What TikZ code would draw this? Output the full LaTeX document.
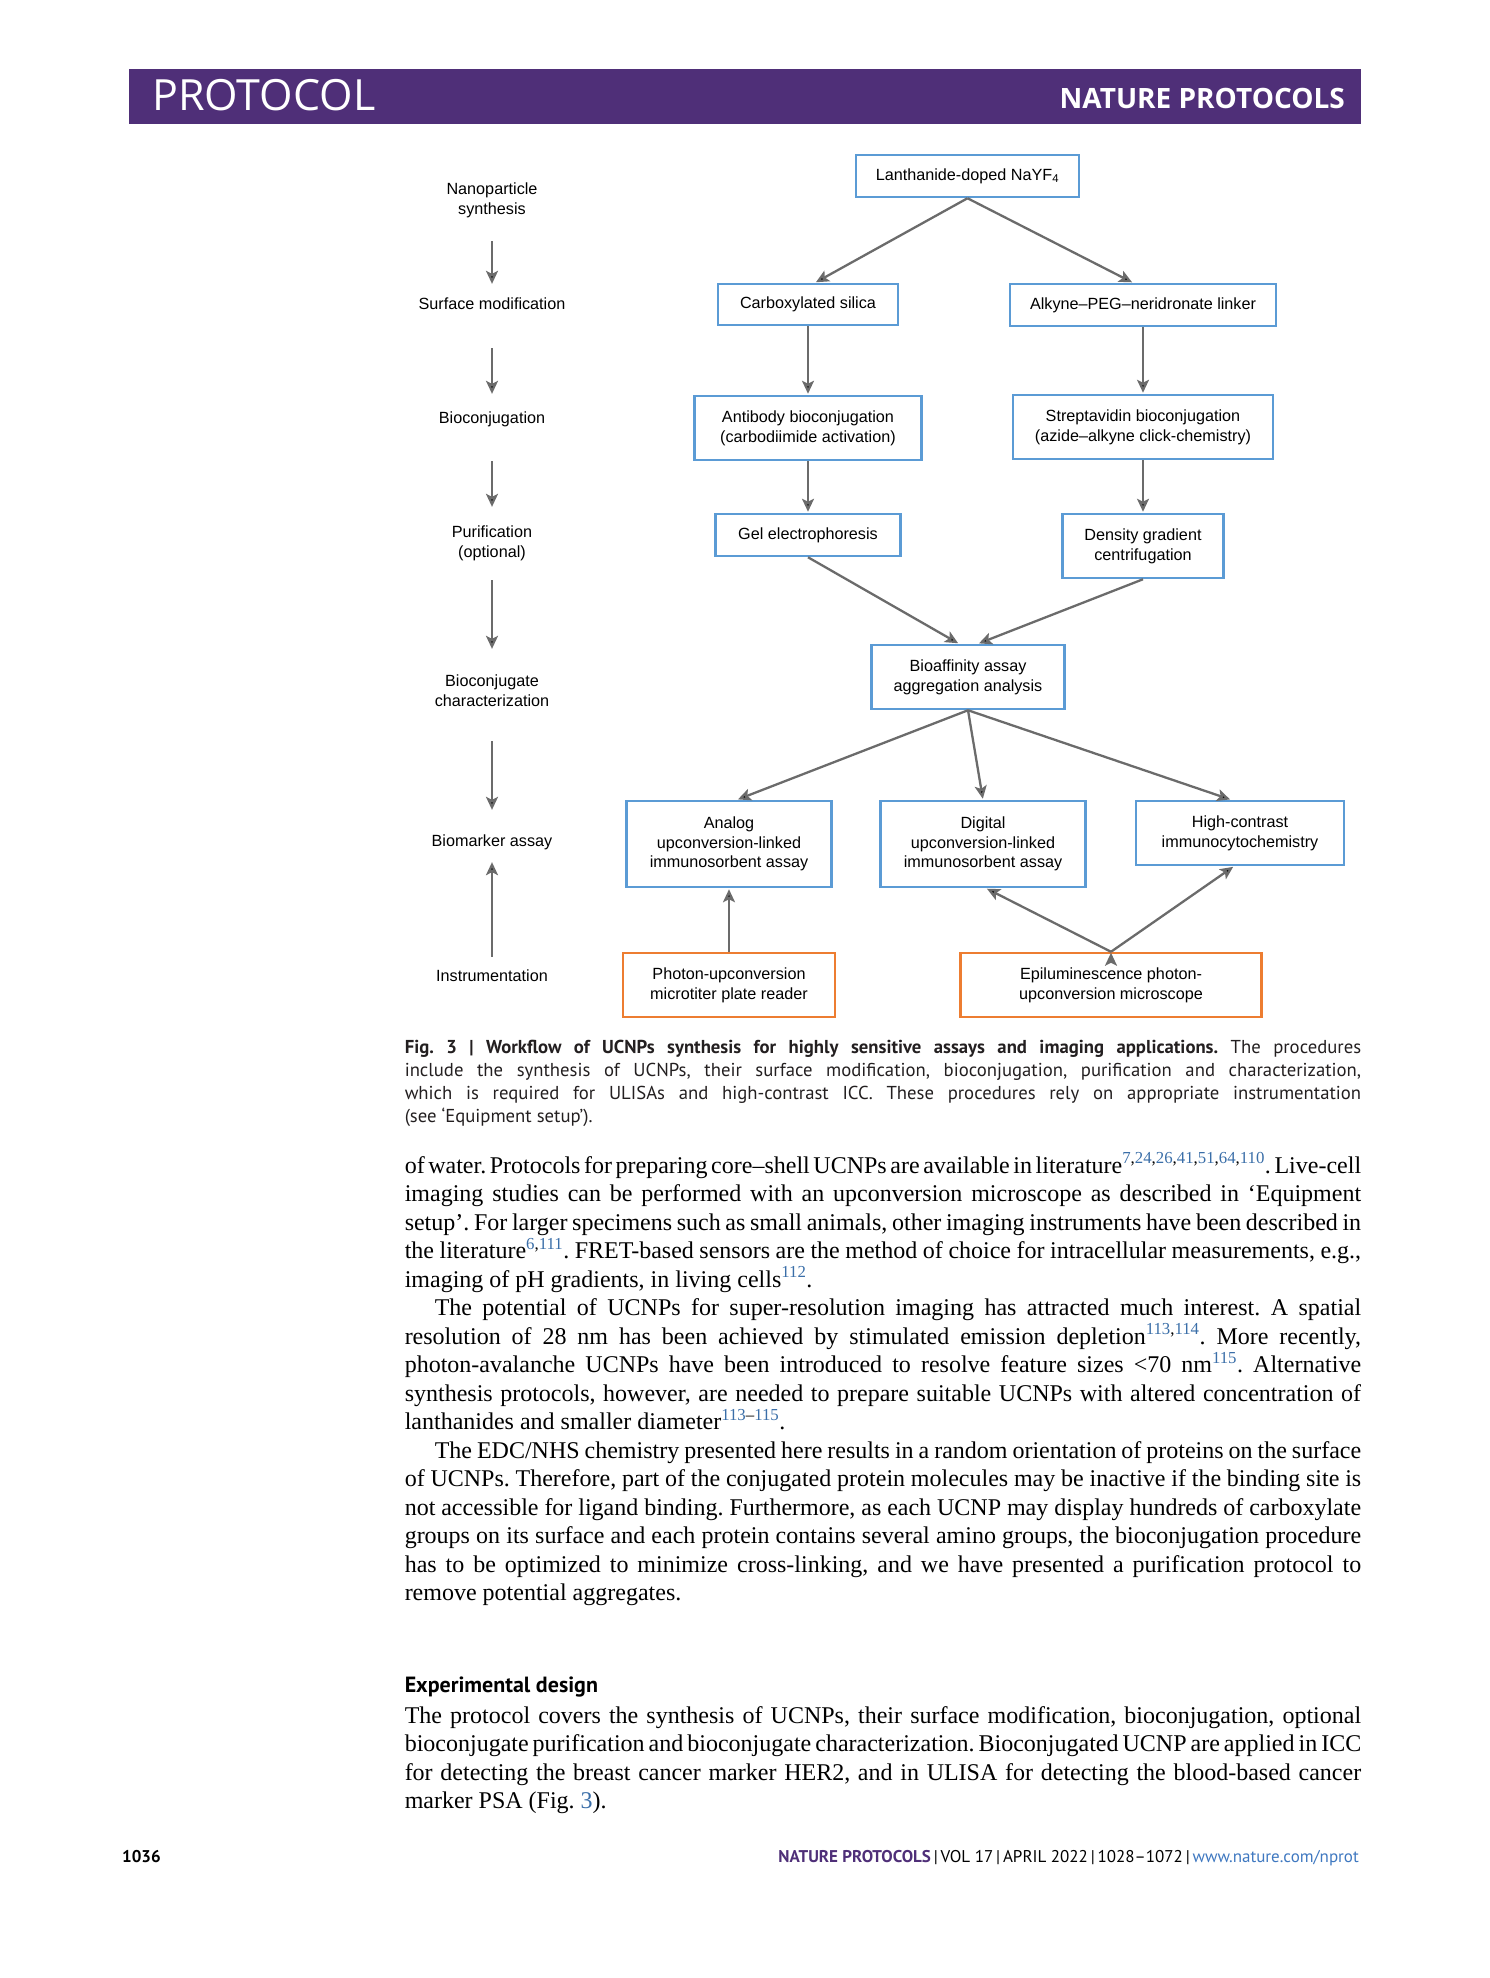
\documentclass[tikz,border=0pt]{standalone}
\usepackage{fontspec}
\setmainfont{Liberation Serif}
\newfontfamily\diafont{Liberation Sans}
\newfontfamily\capfont{PT Sans}
\newfontfamily\headfont{Open Sans}
\usetikzlibrary{arrows.meta}
\definecolor{boxblue}{HTML}{5B9BD5}
\definecolor{boxorange}{HTML}{ED7D31}
\definecolor{arrowgray}{HTML}{6B6B6B}
\definecolor{headpurple}{HTML}{4F2F78}
\definecolor{refblue}{HTML}{3A6EA8}
\definecolor{urlblue}{HTML}{3F78C0}
\definecolor{capgray}{HTML}{231F20}
\newcommand{\rf}[1]{{\color{refblue}#1}}
\newcommand{\jline}[2]{\spaceskip=0.25em plus 0.3em minus 0.12em\relax\makebox[#1][s]{#2}}
\frenchspacing

\begin{document}
\begin{tikzpicture}[x=1pt,y=-1pt,->,>={Stealth[length=13pt,width=12pt,inset=3pt]},shorten >=1pt,line width=2.3pt,
  box/.style={draw=boxblue,line width=2.5pt,inner sep=0pt,align=center,
    font=\diafont\fontsize{16.2}{19.7}\selectfont},
  instbox/.style={box,draw=boxorange},
  stage/.style={inner sep=0pt,minimum height=36pt,align=center,
    font=\diafont\fontsize{16.2}{19.7}\selectfont},
  bodyline/.style={anchor=base west,inner sep=0pt,
    font=\fontsize{24}{28.5}\selectfont},
  capline/.style={anchor=base west,inner sep=0pt,text=capgray,
    font=\capfont\fontsize{18.7}{23.3}\selectfont},
  foot/.style={anchor=base,inner sep=0pt,font=\capfont\fontsize{17}{20}\selectfont}]
  \useasboundingbox (0,0) rectangle (1489,1978);

  % header bar
  \node[fill=headpurple,minimum width=1232pt,minimum height=55pt,inner sep=0pt,anchor=north west] (bar) at (128,68) {};
  \node[anchor=base west,inner sep=0pt,text=white,font=\headfont\fontsize{43}{43}\selectfont] (head1) at (151,110) {PROTOCOL};
  \node[anchor=base east,inner sep=0pt,text=white,font=\headfont\bfseries\fontsize{28}{28}\selectfont] (head2) at (1346,108) {NATURE PROTOCOLS};

  % stages
  \node[stage] (nano) at (492,200) {Nanoparticle\\synthesis};
  \node[stage] (surf) at (492,304) {Surface modification};
  \node[stage] (bioc) at (492,419) {Bioconjugation};
  \node[stage] (puri) at (492,543) {Purification\\(optional)};
  \node[stage] (char) at (492,691) {Bioconjugate\\characterization};
  \node[stage] (bmka) at (492,842) {Biomarker assay};
  \node[stage] (inst) at (492,976) {Instrumentation};

  % workflow boxes
  \node[box,minimum width=223pt,minimum height=42pt] (lant) at (967.5,176) {Lanthanide-doped NaYF\textsubscript{4}};
  \node[box,minimum width=180pt,minimum height=41pt] (carb) at (808,304.5) {Carboxylated silica};
  \node[box,minimum width=266pt,minimum height=42pt] (alky) at (1143,305) {Alkyne–PEG–neridronate linker};
  \node[box,minimum width=227pt,minimum height=64pt] (anti) at (808,428) {Antibody bioconjugation\\(carbodiimide activation)};
  \node[box,minimum width=260pt,minimum height=64pt] (strep) at (1143,427) {Streptavidin bioconjugation\\(azide–alkyne click-chemistry)};
  \node[box,minimum width=185pt,minimum height=42pt] (gel) at (808,535) {Gel electrophoresis};
  \node[box,minimum width=161pt,minimum height=64pt] (dens) at (1143,546) {Density gradient\\centrifugation};
  \node[box,minimum width=193pt,minimum height=64pt] (bioaff) at (968,677) {Bioaffinity assay\\aggregation analysis};
  \node[box,minimum width=205pt,minimum height=86pt] (analog) at (729,844) {Analog\\upconversion-linked\\immunosorbent assay};
  \node[box,minimum width=205pt,minimum height=86pt] (digital) at (983,844) {Digital\\upconversion-linked\\immunosorbent assay};
  \node[box,minimum width=208pt,minimum height=64pt] (high) at (1240,833) {High-contrast\\immunocytochemistry};
  \node[instbox,minimum width=212pt,minimum height=64pt] (photon) at (729,985) {Photon-upconversion\\microtiter plate reader};
  \node[instbox,minimum width=301pt,minimum height=64pt] (epi) at (1111,985) {Epiluminescence photon-\\upconversion microscope};

  \path[draw=arrowgray]
  (nano) edge[shorten <=22pt] (surf)
  (surf) edge[shorten <=25pt,shorten >=6pt] (bioc)
  (bioc) edge[shorten <=23pt,shorten >=17pt] (puri)
  (puri) edge[shorten <=18pt,shorten >=23pt] (char)
  (char) edge[shorten <=31pt,shorten >=13pt] (bmka)
  (inst) edge (bmka);

  \path[draw=arrowgray]
  (lant.south) edge ([xshift=7pt]carb.north)
  (lant.south) edge ([xshift=-10pt]alky.north)
  (carb) edge (anti)
  (alky) edge (strep)
  (anti) edge (gel)
  (strep) edge (dens)
  (gel.south) edge ([xshift=-9pt]bioaff.north)
  (dens.south) edge ([xshift=10pt]bioaff.north)
  (bioaff.south) edge ([xshift=8pt]analog.north)
  (bioaff.south) edge (digital.north)
  (bioaff.south) edge ([xshift=-9pt]high.north)
  (photon) edge (analog)
  (epi.north) edge ([xshift=3pt]digital.south)
  (epi.north) edge ([xshift=-6pt]high.south);

  % caption
  \node[capline] (cap1) at (403.6,1053) {\jline{956.4pt}{{\bfseries Fig. 3 | Workflow of UCNPs synthesis for highly sensitive assays and imaging applications.} The procedures}};
  \node[capline] (cap2) at (403.6,1076.3) {\jline{956.4pt}{include the synthesis of UCNPs, their surface modification, bioconjugation, purification and characterization,}};
  \node[capline] (cap3) at (403.6,1099.6) {\jline{956.4pt}{which is required for ULISAs and high-contrast ICC. These procedures rely on appropriate instrumentation}};
  \node[capline] (cap4) at (403.6,1122.9) {(see ‘Equipment setup’).};

  % body text
  \node[bodyline] (b1) at (403.6,1173) {\jline{956.4pt}{of water. Protocols for preparing core–shell UCNPs are available in literature\textsuperscript{\rf{7},\rf{24},\rf{26},\rf{41},\rf{51},\rf{64},\rf{110}}. Live-cell}};
  \node[bodyline] (b2) at (403.6,1201.5) {\jline{956.4pt}{imaging studies can be performed with an upconversion microscope as described in ‘Equipment}};
  \node[bodyline] (b3) at (403.6,1230) {\jline{956.4pt}{setup’. For larger specimens such as small animals, other imaging instruments have been described in}};
  \node[bodyline] (b4) at (403.6,1258.5) {\jline{956.4pt}{the literature\textsuperscript{\rf{6},\rf{111}}. FRET-based sensors are the method of choice for intracellular measurements, e.g.,}};
  \node[bodyline] (b5) at (403.6,1287) {imaging of pH gradients, in living cells\textsuperscript{\rf{112}}.};
  \node[bodyline] (b6) at (433.6,1315.5) {\jline{926.4pt}{The potential of UCNPs for super-resolution imaging has attracted much interest. A spatial}};
  \node[bodyline] (b7) at (403.6,1344) {\jline{956.4pt}{resolution of 28 nm has been achieved by stimulated emission depletion\textsuperscript{\rf{113},\rf{114}}. More recently,}};
  \node[bodyline] (b8) at (403.6,1372.5) {\jline{956.4pt}{photon-avalanche UCNPs have been introduced to resolve feature sizes <70 nm\textsuperscript{\rf{115}}. Alternative}};
  \node[bodyline] (b9) at (403.6,1401) {\jline{956.4pt}{synthesis protocols, however, are needed to prepare suitable UCNPs with altered concentration of}};
  \node[bodyline] (b10) at (403.6,1429.5) {lanthanides and smaller diameter\textsuperscript{\rf{113}–\rf{115}}.};
  \node[bodyline] (b11) at (433.6,1458) {\jline{926.4pt}{The EDC/NHS chemistry presented here results in a random orientation of proteins on the surface}};
  \node[bodyline] (b12) at (403.6,1486.5) {\jline{956.4pt}{of UCNPs. Therefore, part of the conjugated protein molecules may be inactive if the binding site is}};
  \node[bodyline] (b13) at (403.6,1515) {\jline{956.4pt}{not accessible for ligand binding. Furthermore, as each UCNP may display hundreds of carboxylate}};
  \node[bodyline] (b14) at (403.6,1543.5) {\jline{956.4pt}{groups on its surface and each protein contains several amino groups, the bioconjugation procedure}};
  \node[bodyline] (b15) at (403.6,1572) {\jline{956.4pt}{has to be optimized to minimize cross-linking, and we have presented a purification protocol to}};
  \node[bodyline] (b16) at (403.6,1600.5) {remove potential aggregates.};

  \node[anchor=base west,inner sep=0pt,font=\capfont\bfseries\fontsize{22}{26}\selectfont] (sect) at (403.6,1692) {Experimental design};
  \node[bodyline] (b17) at (403.6,1723) {\jline{956.4pt}{The protocol covers the synthesis of UCNPs, their surface modification, bioconjugation, optional}};
  \node[bodyline] (b18) at (403.6,1751.5) {\jline{956.4pt}{bioconjugate purification and bioconjugate characterization. Bioconjugated UCNP are applied in ICC}};
  \node[bodyline] (b19) at (403.6,1780) {\jline{956.4pt}{for detecting the breast cancer marker HER2, and in ULISA for detecting the blood-based cancer}};
  \node[bodyline] (b20) at (403.6,1808.5) {marker PSA (Fig. \rf{3}).};

  % footer
  \node[foot,anchor=base west,font=\capfont\bfseries\fontsize{17}{20}\selectfont] (page) at (121,1862) {1036};
  \node[foot,anchor=base east] (journal) at (1360,1862) {{\color{headpurple}\bfseries NATURE PROTOCOLS}\,|\,VOL 17\,|\,APRIL 2022\,|\,1028–1072\,|\,{\color{urlblue}www.nature.com/nprot}};
\end{tikzpicture}
\end{document}
